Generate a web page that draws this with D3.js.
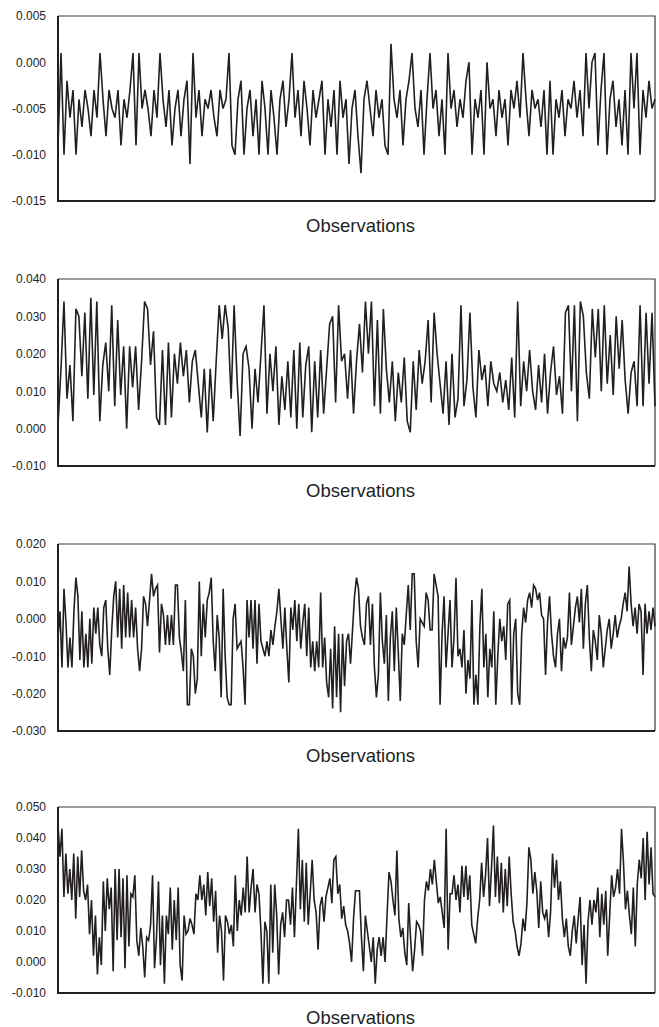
<!DOCTYPE html>
<html>
<head>
<meta charset="utf-8">
<script src="https://cdn.jsdelivr.net/npm/d3@7"></script>
<style>
body{margin:0;background:#fff;}
svg{display:block;font-family:"Liberation Sans",Arial,sans-serif;}
</style>
</head>
<body>
<script>
//all series values are in thousandths (x 0.001)
var series1 = [
	-9, 1, -10, -2, -6, -3, -10, -4, -7, -3,
	-5, -8, -3, -6, 1, -4, -8, -3, -5, -6,
	-3, -9, -4, -6, -3, 1, -9, 1, -5, -3,
	-5, -8, -3, -6, 1, -4, -7, -3, -9, -5,
	-3, -8, -4, -2, -11, 1, -6, -3, -8, -4,
	-5, -3, -6, -8, -3, -5, -4, 1, -9, -10,
	-4, -2, -10, -5, -3, -8, -4, -10, -2, -5,
	-10, -3, -6, -10, -4, -2, -7, -4, 1, -6,
	-3, -8, -2, -5, -9, -3, -6, -4, -2, -10,
	-4, -7, -3, -10, -2, -6, -4, -11, -5, -3,
	-8, -12, -4, -2, -5, -8, -3, -6, -4, -9,
	-10, 2, -4, -6, -3, -9, -4, -2, 1, -5,
	-7, -3, -10, -4, 1, -5, -3, -8, -4, -10,
	1, -5, -3, -7, -4, -6, -2, 0, -10, -4,
	-6, -3, -10, 0, -5, -4, -8, -3, -6, -4,
	-9, -3, -5, -2, -6, 1, -4, -8, -3, -5,
	-4, -7, -3, -10, -2, -10, -4, -6, -3, -8,
	-4, -5, -2, -6, -3, -8, 1, -5, 0, 1,
	-9, -3, 1, -10, -4, -2, -7, -4, -9, -3,
	-10, 1, -5, 1, -10, -3, -6, -2, -5, -4
];
var series2 = [
	1, 16, 34, 8, 17, 2, 32, 30, 14, 31,
	8, 35, 9, 34, 2, 17, 23, 10, 33, 6,
	29, 9, 22, 0, 22, 11, 22, 5, 18, 34,
	32, 17, 26, 3, 1, 21, 1, 23, 3, 20,
	12, 23, 14, 21, 7, 18, 21, 12, 3, 16,
	-1, 16, 2, 18, 33, 24, 33, 27, 8, 33,
	13, -2, 20, 22, 16, 0, 16, 7, 20, 33,
	4, 20, 10, 22, 1, 14, 5, 18, 3, 21,
	0, 23, 3, 17, 22, -1, 18, 3, 21, 4,
	16, 28, 30, 7, 33, 18, 20, 8, 21, 4,
	18, 28, 15, 34, 20, 34, 6, 29, 4, 32,
	16, 7, 18, 2, 15, 7, 19, 2, -1, 18,
	5, 21, 12, 18, 29, 7, 31, 20, 12, 4,
	18, 1, 20, 3, 8, 33, 6, 13, 31, 11,
	3, 21, 13, 17, 6, 18, 12, 10, 15, 7,
	13, 5, 19, 3, 34, 6, 18, 10, 21, 10,
	5, 17, 7, 20, 4, 15, 22, 9, 14, 4,
	31, 33, 10, 33, 2, 34, 30, 15, 8, 32,
	19, 32, 10, 33, 12, 25, 9, 30, 16, 29,
	13, 4, 15, 18, 6, 33, 6, 31, 12, 31, 6
];
var series3 = [
	-5, 2, -13, 8, -1, -13, -5, -13, 2, 11,
	6, -11, 2, -13, -4, -13, 0, -12, 3, -4,
	3, -7, -10, 3, 5, -8, -15, -3, 6, 10,
	-5, 8, -8, 9, -5, 7, -5, 5, -5, 3,
	-8, -14, -8, 6, 4, -2, 5, 12, 6, 8,
	9, -9, 4, 1, -7, 1, -7, 1, -7, 9,
	9, -5, -9, -14, 5, -23, -23, -8, -10, -20,
	-16, 10, -10, 4, -5, 5, 7, 11, -6, -14,
	1, -5, -21, 8, -10, -21, -23, -23, 0, 4,
	-8, -7, -6, -13, -23, 5, -5, 5, -8, 5,
	-12, 4, -6, -8, -10, -6, -10, -3, -7, -2,
	2, 8, 0, -8, 3, -8, -17, 3, -3, 5,
	-6, 4, -8, -1, 4, -10, 3, -13, -6, -14,
	-6, -13, 7, -13, -5, -17, -21, -8, -24, -2,
	-21, -4, -25, -4, -18, -6, -4, -12, -3, 6,
	11, 8, -2, -5, -7, 4, 6, -7, 4, -13,
	-21, -15, 7, -6, -12, 1, -22, -5, 2, -14,
	3, -9, -22, -4, -7, 1, 9, -3, 12, 12,
	-6, -13, 0, -1, -2, 7, 5, -3, -3, 12,
	9, 6, -23, -4, 6, -13, -4,
	5, -13, -5, 11, -10, -8, -13, -3, -20, -11,
	-16, 5, -23, -15, -23, -2, 8, -13, -4, -21,
	-8, -13, 2, -23, -10, 0, -6, -2, -11, 4,
	5, -23, -4, 0, -20, -23, -4, 3, -1, 5,
	7, 3, 9, 8, 5, 7, 1, 0, -15, -1,
	6, -4, -10, -13, -4, 0, -14, -5, -8, -5,
	7, -7, -2, 3, 6, -1, 8, -8, 4, 9,
	-5, -14, -3, -6, -11, 1, -4, -13, -8, -3,
	0, -8, -4, 1, -5, -2, 0, 4, 7, 2,
	14, 4, -2, 3, -4, 4, 2, -15, 4, -4,
	2, -3, 3, -2
];
var series4 = [
	44, 34, 43, 21, 35, 22, 30, 20, 35, 14,
	34, 21, 36, 23, 20, 25, 9,
	20, 2, 15, -4, 8, -1, 26, 10, 27, 17,
	24, -3, 30, 7, 30, 8, 27, -2, 28,
	5, 22, 21, 28, 7, 2, 11, 5, -5, 8,
	7, 12, 28, -2, 8, 26, -1, 15, -7, 15,
	9, 24, 4, 20, 7, 24, -1, -6, 15, 9,
	10, 14, 12, 9, 22, 20, 28, 20, 25, 15,
	29, 18, 27, 13, 23, 3, 15, 10, -6, 15,
	13, 9, 12, 5, 28, 10, 20, 15, 24, 16,
	34, 16, 24, 30, 16, 25, 22, 10, -7, 13,
	10, -7, 25, 3, 25, 15, -4, 12, 16, 8,
	20, 20, 12, 24, 8, 25, 43, 17, 33, 13,
	32, 12, 22, 33, 20, 16, 4, 18, 21, 13,
	21, 24, 27, 19, 33, 34, 22, 25, 14, 18,
	12, 10, 6, 0, 14, 23, 23, 23, 8, -3,
	15, 10, 5, 0, 8, -7, 4, 8, 2, 8,
	0, 15, 29, 26, 20, 15, 36, 14, 8, 11,
	3, -1, 19, 7, -3, 4, 13, 12, 10, 2,
	20, 26, 23, 30, 25, 33, 26, 19, 21, 16,
	11, 43, 4, 22,
	22, 28, 20, 25, 16, 31, 21, 31, 20, 28,
	12, 9, 6, 14, 20, 32, 21, 28, 40, 18,
	30, 44, 21, 34, 19, 32, 16, 30, 18, 34,
	22, 13, 10, 5, 2, 6, 14, 10, 19, 37,
	33, 22, 29, 23, 11, 26, 16, 14, 17, 8,
	16, 35, 24, 33, 20, 26, 14, 8, 14, 5,
	2, 10, 15, 6, 14, 21, -1, 12, -7, 13,
	20, 12, 20, 16, 24, 8, 22, 12, 23, 2,
	15, 28, 21, 24, 30, 22, 43, 32, 17, 23,
	15, 9, 24, 5, 25, 33, 27, 40, 20, 42,
	25, 37, 22, 21
];

var ticks1 = [-0.015, -0.010, -0.005, 0.000, 0.005];
var ticks2 = [-0.010, 0.000, 0.010, 0.020, 0.030, 0.040];
var ticks3 = [-0.030, -0.020, -0.010, 0.000, 0.010, 0.020];
var ticks4 = [-0.010, 0.000, 0.010, 0.020, 0.030, 0.040, 0.050];
var xTitle = "Observations";

var w = 659, h = 1027;
var left = 58, right = 655;
var ink = '#231f20';

var panels = [
	{values: series1, ticks: ticks1, top: 16, bottom: 201},
	{values: series2, ticks: ticks2, top: 279, bottom: 466},
	{values: series3, ticks: ticks3, top: 544, bottom: 731},
	{values: series4, ticks: ticks4, top: 807, bottom: 993}
];

var svg = d3.select('body')
			.append('svg')
			.attr('width', w)
			.attr('height', h);

for(let p of panels){
	var g = svg.append('g');

	var x = d3.scaleLinear()
			  .domain([0, p.values.length - 1])
			  .range([left, right]);
	var y = d3.scaleLinear()
			  .domain([p.ticks[0], p.ticks[p.ticks.length - 1]])
			  .range([p.bottom, p.top]);

	//thin frame on top and right
	g.append('path')
	 .attr('d', 'M' + left + ',' + p.top + ' H' + right + ' V' + p.bottom)
	 .attr('fill', 'none')
	 .attr('stroke', '#3a3a3a')
	 .attr('stroke-width', 1.2);

	var line = d3.line()
				 .x(function(d, i){ return x(i); })
				 .y(function(d){ return y(d / 1000); });

	g.append('path')
	 .datum(p.values)
	 .attr('d', line)
	 .attr('fill', 'none')
	 .attr('stroke', ink)
	 .attr('stroke-width', 1.6)
	 .attr('stroke-linejoin', 'miter');

	var axis = d3.axisLeft(y)
				 .tickValues(p.ticks)
				 .tickSize(0)
				 .tickPadding(12)
				 .tickFormat(function(d){ return d.toFixed(3); });

	var ay = g.append('g')
			  .attr('transform', 'translate(' + left + ',0)')
			  .call(axis);
	ay.select('.domain').remove();
	ay.selectAll('text')
	  .attr('font-size', 12)
	  .attr('font-family', '"Liberation Sans",Arial,sans-serif')
	  .attr('fill', ink);

	//heavy left and bottom axis lines
	g.append('path')
	 .attr('d', 'M' + left + ',' + p.top + ' V' + p.bottom + ' H' + right)
	 .attr('fill', 'none')
	 .attr('stroke', ink)
	 .attr('stroke-width', 2);

	g.append('text')
	 .attr('x', (left + right) / 2 + 4)
	 .attr('y', p.bottom + 31)
	 .attr('text-anchor', 'middle')
	 .attr('font-size', 18.5)
	 .attr('fill', ink)
	 .text(xTitle);
}
</script>
</body>
</html>
